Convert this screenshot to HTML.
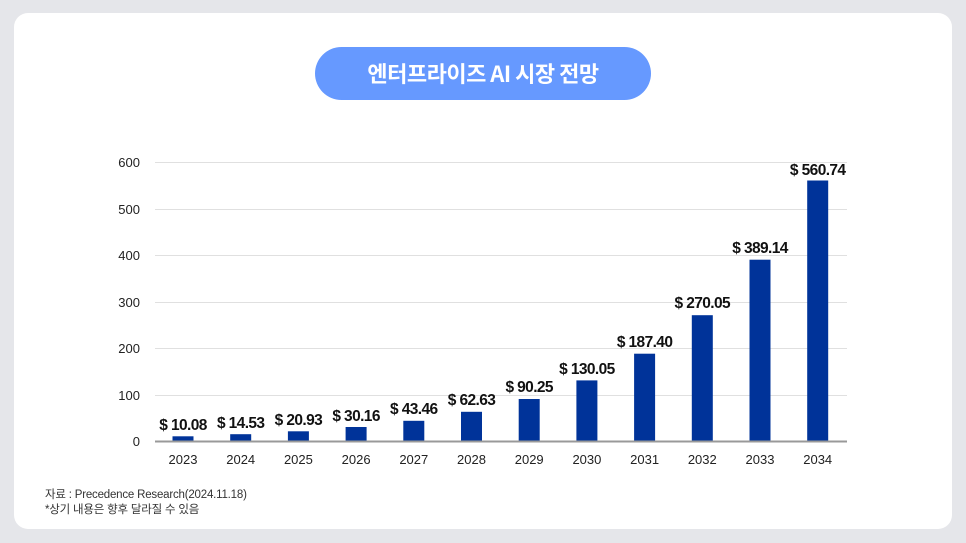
<!DOCTYPE html>
<html><head><meta charset="utf-8"><style>
body{margin:0;width:966px;height:543px;background:#e5e6ea;overflow:hidden;font-family:"Liberation Sans","Noto Sans CJK KR",sans-serif}
.card{position:absolute;left:14px;top:13px;width:938px;height:516px;background:#fff;border-radius:14px}
.pill{position:absolute;left:315px;top:47px;width:336px;height:53px;border-radius:27px;background:#6699ff;color:#fff;font-weight:bold;font-size:22px;text-align:center;line-height:53px;font-family:"Noto Sans CJK KR","Liberation Sans",sans-serif;letter-spacing:-0.5px}
svg{position:absolute;left:0;top:0}
</style></head><body>
<div class="card"></div>
<div class="pill">엔터프라이즈 AI 시장 전망</div>
<svg width="966" height="543" font-family="Liberation Sans, Noto Sans CJK KR, sans-serif">
<g stroke="#e0e0e0" stroke-width="1">
<line x1="155" x2="847" y1="162.5" y2="162.5"/><line x1="155" x2="847" y1="209.5" y2="209.5"/><line x1="155" x2="847" y1="255.5" y2="255.5"/><line x1="155" x2="847" y1="302.5" y2="302.5"/><line x1="155" x2="847" y1="348.5" y2="348.5"/><line x1="155" x2="847" y1="395.5" y2="395.5"/>
</g>
<g font-size="13" fill="#222" text-anchor="end">
<text x="140" y="167">600</text><text x="140" y="214">500</text><text x="140" y="260">400</text><text x="140" y="307">300</text><text x="140" y="353">200</text><text x="140" y="400">100</text><text x="140" y="446">0</text>
</g>
<g fill="#003399">
<rect x="172.5" y="436.3" width="21" height="4.7"/>
<rect x="230.2" y="434.2" width="21" height="6.8"/>
<rect x="287.9" y="431.3" width="21" height="9.7"/>
<rect x="345.6" y="427" width="21" height="14"/>
<rect x="403.3" y="420.8" width="21" height="20.2"/>
<rect x="461" y="411.8" width="21" height="29.2"/>
<rect x="518.7" y="399" width="21" height="42"/>
<rect x="576.4" y="380.4" width="21" height="60.6"/>
<rect x="634.1" y="353.7" width="21" height="87.3"/>
<rect x="691.8" y="315.2" width="21" height="125.8"/>
<rect x="749.5" y="259.7" width="21" height="181.3"/>
<rect x="807.2" y="180.5" width="21" height="260.5"/>
</g>
<rect x="155" y="440.5" width="692" height="2" fill="#999"/>
<g font-size="15.5" font-weight="bold" fill="#111" text-anchor="middle" letter-spacing="-0.6">
<text x="183" y="430">$ 10.08</text>
<text x="240.7" y="428">$ 14.53</text>
<text x="298.4" y="425">$ 20.93</text>
<text x="356.1" y="421">$ 30.16</text>
<text x="413.8" y="414">$ 43.46</text>
<text x="471.5" y="405">$ 62.63</text>
<text x="529.2" y="392">$ 90.25</text>
<text x="586.9" y="374">$ 130.05</text>
<text x="644.6" y="347">$ 187.40</text>
<text x="702.3" y="308">$ 270.05</text>
<text x="760" y="253">$ 389.14</text>
<text x="817.7" y="175">$ 560.74</text>
</g>
<g font-size="13" fill="#222" text-anchor="middle">
<text x="183" y="464">2023</text><text x="240.7" y="464">2024</text><text x="298.4" y="464">2025</text><text x="356.1" y="464">2026</text><text x="413.8" y="464">2027</text><text x="471.5" y="464">2028</text><text x="529.2" y="464">2029</text><text x="586.9" y="464">2030</text><text x="644.6" y="464">2031</text><text x="702.3" y="464">2032</text><text x="760" y="464">2033</text><text x="817.7" y="464">2034</text>
</g>
<g font-size="11.5" fill="#333" letter-spacing="-0.2">
<text x="45" y="498">자료 : Precedence Research(2024.11.18)</text>
<text x="45" y="513">*상기 내용은 향후 달라질 수 있음</text>
</g>
</svg>
</body></html>
